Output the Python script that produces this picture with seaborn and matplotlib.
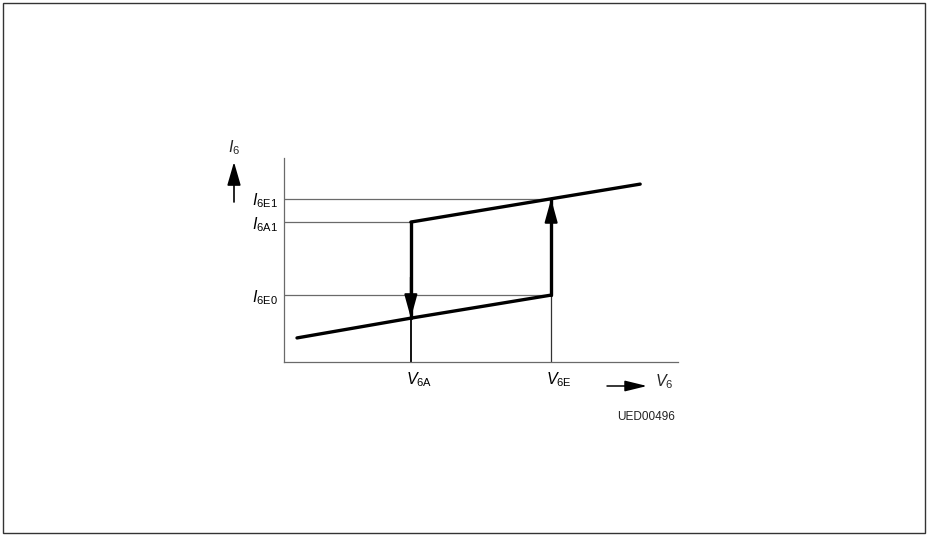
import matplotlib
matplotlib.use("Agg")
import matplotlib.pyplot as plt
import matplotlib.transforms as mtransforms
from matplotlib.patches import Rectangle
import seaborn as sns
import pandas as pd

# Hysteresis characteristic I6 = f(V6), arbitrary units
v_points = [0.33, 3.22, 6.78, 9.04]      # V start, V6A, V6E, V end
i_lower = [1.18, 2.15, 3.28]             # lower branch at v_points[0:3]
i_upper = [6.86, 8.00, 8.72]             # upper branch at v_points[1:4]
v_ticks = [3.22, 6.78]
v_tick_labels = [r"$V_{\mathrm{6A}}$", r"$V_{\mathrm{6E}}$"]
i_ticks = [3.28, 6.86, 8.00]
i_tick_labels = [r"$I_{\mathrm{6E0}}$", r"$I_{\mathrm{6A1}}$", r"$I_{\mathrm{6E1}}$"]
i_guide_ends = [6.78, 3.22, 6.78]        # where each level line meets the loop
drawing_code = "UED00496"

sns.set_theme(style="white")
plt.rcParams["font.family"] = ["Liberation Sans", "DejaVu Sans"]
plt.rcParams["mathtext.fontset"] = "custom"
plt.rcParams["mathtext.rm"] = "Liberation Sans"
plt.rcParams["mathtext.it"] = "Liberation Sans:italic"

W, H = 927, 536
fig = plt.figure(figsize=(W / 100, H / 100), dpi=100)
fig.patch.set_facecolor("white")
ax = fig.add_axes([284 / W, 1 - 362 / H, 394 / W, 204 / H])
ax.set_facecolor("white")
ax.set_xlim(0, 10)
ax.set_ylim(0, 10)

grey = "#6a6a6a"
for sp in ("top", "right"):
    ax.spines[sp].set_visible(False)
for sp in ("left", "bottom"):
    ax.spines[sp].set_color(grey)
    ax.spines[sp].set_linewidth(0.9)

# current level guide lines
for lvl, xend in zip(i_ticks, i_guide_ends):
    ax.plot([0, xend], [lvl, lvl], color=grey, lw=0.9, zorder=1)

v_a, v_e = v_ticks
# thin drop lines to the voltage axis
ax.plot([v_a, v_a], [0, i_lower[1]], color="black", lw=1.3, zorder=2)
ax.plot([v_e, v_e], [0, i_lower[2]], color="#333333", lw=0.9, zorder=2)

# branches of the characteristic
lower = pd.DataFrame({"V": v_points[:3], "I": i_lower})
upper = pd.DataFrame({"V": v_points[1:], "I": i_upper})
sns.lineplot(data=lower, x="V", y="I", ax=ax, color="black", lw=2.4, sort=False,
             estimator=None, zorder=3)
sns.lineplot(data=upper, x="V", y="I", ax=ax, color="black", lw=2.4, sort=False,
             estimator=None, zorder=3)
# switching transitions
ax.plot([v_a, v_a], [i_upper[0], i_lower[1]], color="black", lw=2.4, zorder=3,
        solid_joinstyle="round", solid_capstyle="round")
ax.plot([v_e, v_e], [i_lower[2], i_upper[1]], color="black", lw=2.4, zorder=3,
        solid_capstyle="round")

head = dict(arrowstyle="-|>,head_length=0.8,head_width=0.22", mutation_scale=18,
            color="black", lw=1.5, shrinkA=0, shrinkB=0)
ax.annotate("", xy=(v_a, i_lower[1]), xytext=(v_a, i_lower[1] + 2.0), arrowprops=head, zorder=4)
ax.annotate("", xy=(v_e, i_upper[1]), xytext=(v_e, i_upper[1] - 2.0), arrowprops=head, zorder=4)

ax.set_xlabel("")
ax.set_ylabel("")
ax.set_xticks(v_ticks)
ax.set_xticklabels(v_tick_labels, fontsize=11.5)
ax.set_yticks(i_ticks)
ax.set_yticklabels(i_tick_labels, fontsize=11.5)
ax.tick_params(axis="both", length=0, colors="black")
ax.tick_params(axis="y", pad=4.5)
ax.tick_params(axis="x", pad=6)
shift = mtransforms.ScaledTranslation(-5 / 100, 0, fig.dpi_scale_trans)
for lab in ax.get_xticklabels():
    lab.set_ha("left")
    lab.set_transform(lab.get_transform() + shift)

# axis quantity labels with direction arrows
up_head = dict(arrowstyle="-|>,head_length=0.9,head_width=0.26", mutation_scale=16,
               color="black", lw=1.2, shrinkA=0, shrinkB=0)
ax.annotate("", xy=(234 / W, 1 - 162 / H), xytext=(234 / W, 1 - 202 / H),
            xycoords="figure fraction", textcoords="figure fraction", arrowprops=up_head)
fig.text(228 / W, 1 - 152 / H, r"$I_{6}$", fontsize=11.5, ha="left", va="baseline")
right_head = dict(arrowstyle="-|>,head_length=0.9,head_width=0.22", mutation_scale=15,
                  color="black", lw=1.1, shrinkA=0, shrinkB=0)
ax.annotate("", xy=(647 / W, 1 - 386 / H), xytext=(607 / W, 1 - 386 / H),
            xycoords="figure fraction", textcoords="figure fraction", arrowprops=right_head)
fig.text(655 / W, 1 - 386 / H, r"$V_{6}$", fontsize=11.5, ha="left", va="baseline")

fig.text(675 / W, 1 - 417 / H, drawing_code, fontsize=8.5, ha="right", va="center",
         color="#222222")

# page frame
fig.add_artist(Rectangle((3 / W, 3 / H), 922 / W, 530 / H, transform=fig.transFigure,
                         fill=False, edgecolor="#333333", lw=1.0))

fig.savefig("out.png", dpi=100, facecolor="white")
